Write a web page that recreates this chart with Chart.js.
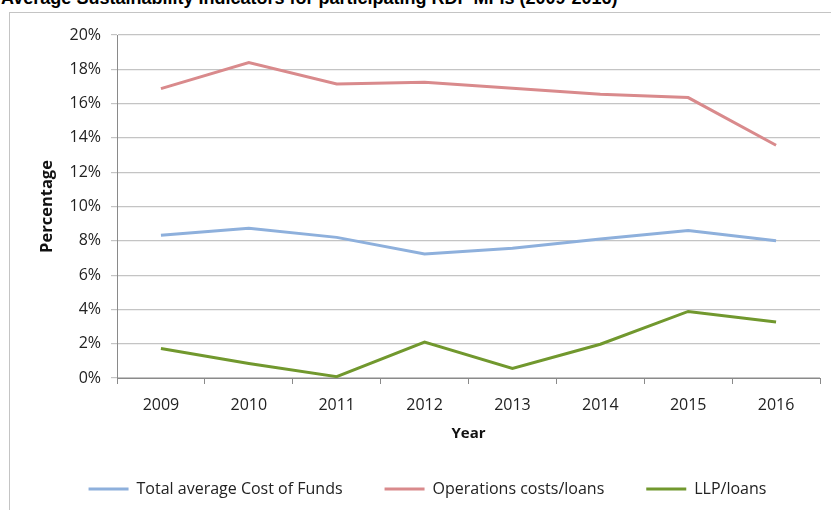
<!DOCTYPE html>
<html>
<head>
<meta charset="utf-8">
<script src="https://cdn.jsdelivr.net/npm/chart.js@4"></script>
<style>
  html, body { margin: 0; padding: 0; background: #fff; overflow: hidden; }
  #wrap { position: relative; width: 831px; height: 510px; overflow: hidden; }
  #title { position: absolute; left: 1px; top: -12px; white-space: nowrap;
           font: bold 18px "Liberation Sans", Arial, sans-serif; color: #000; }
  #frame { position: absolute; left: 9px; top: 12px; width: 900px; height: 600px;
           border: 1px solid #c4c4c4; box-sizing: border-box; }
  #c { position: absolute; left: 0; top: 0; }
</style>
</head>
<body>
<div id="wrap">
  <div id="title">Average Sustainability Indicators for participating RDF MFIs (2009-2016)</div>
  <div id="frame"></div>
  <canvas id="c" width="831" height="510"></canvas>
</div>
<script>
const years = ["2009", "2010", "2011", "2012", "2013", "2014", "2015", "2016"];
const costOfFunds = [8.33, 8.73, 8.2, 7.23, 7.57, 8.1, 8.6, 8.0];
const operationsCosts = [16.87, 18.4, 17.15, 17.25, 16.9, 16.55, 16.35, 13.57];
const llpLoans = [1.72, 0.85, 0.08, 2.1, 0.56, 1.97, 3.88, 3.26];
const seriesNames = ["Total average Cost of Funds", "Operations costs/loans", "LLP/loans"];
const yTickValues = [0, 2, 4, 6, 8, 10, 12, 14, 16, 18, 20];

const FONT = "'Open Sans', 'DejaVu Sans', sans-serif";
const colors = ['#8EB0DC', '#D98A8C', '#71982E'];

new Chart(document.getElementById('c'), {
  type: 'line',
  data: {
    labels: years,
    datasets: [
      { label: seriesNames[0], data: costOfFunds },
      { label: seriesNames[1], data: operationsCosts },
      { label: seriesNames[2], data: llpLoans }
    ].map((d, i) => Object.assign(d, {
      borderColor: colors[i], backgroundColor: colors[i],
      borderWidth: 3, pointRadius: 0, tension: 0, fill: false
    }))
  },
  options: {
    responsive: false,
    animation: false,
    layout: { padding: { left: 35, right: 11, top: 35, bottom: 3 } },
    plugins: {
      tooltip: { enabled: false },
      legend: {
        position: 'bottom',
        labels: {
          usePointStyle: true, pointStyle: 'line', pointStyleWidth: 40,
          padding: 42, color: '#222',
          font: { family: FONT, size: 16 }
        }
      }
    },
    scales: {
      x: {
        offset: true,
        grid: { display: true, drawOnChartArea: false, drawTicks: true, tickLength: 6, color: '#8a8a8a', offset: true },
        border: { color: '#8a8a8a', width: 1 },
        ticks: { color: '#222', font: { family: FONT, size: 16 }, padding: 12 },
        title: { display: true, text: 'Year', color: '#111', font: { family: FONT, size: 15, weight: 'bold' }, padding: { top: 0, bottom: -4 } },
        afterFit: s => { s.height = 61; }
      },
      y: {
        min: 0, max: 20,
        afterBuildTicks: s => { s.ticks = yTickValues.map(v => ({ value: v })); },
        grid: { color: '#c4c4c4', drawTicks: true, tickLength: 6, lineWidth: 1.2 },
        border: { color: '#8a8a8a', width: 1 },
        ticks: { color: '#222', font: { family: FONT, size: 16 }, padding: 10, callback: v => v + '%' },
        title: { display: true, text: 'Percentage', color: '#111', font: { family: FONT, size: 16.5, weight: 'bold' }, padding: 2 },
        afterFit: s => { s.width = 82; }
      }
    }
  }
});
</script>
</body>
</html>
